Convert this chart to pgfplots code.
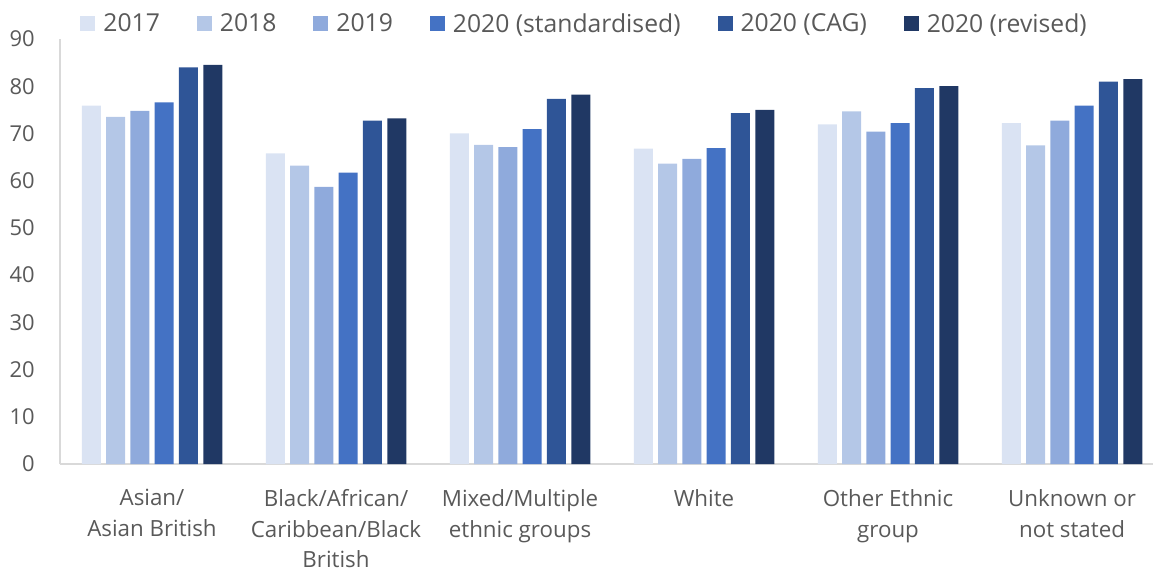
\documentclass[border=0pt]{standalone}
\usepackage{pgfplots}
\pgfplotsset{compat=1.18}
\usepackage{fontspec}
\setmainfont{Open Sans}
\definecolor{c1}{HTML}{DAE3F3}
\definecolor{c2}{HTML}{B4C7E7}
\definecolor{c3}{HTML}{8FAADC}
\definecolor{c4}{HTML}{4472C4}
\definecolor{c5}{HTML}{2F5597}
\definecolor{c6}{HTML}{203864}
\definecolor{txt}{HTML}{595959}
\definecolor{axc}{HTML}{D9D9D9}
\pgfplotsset{sq/.style={draw=none, fill=#1,
  legend image code/.code={\fill[#1] (0bp,-3.4bp) rectangle (7.5bp,4.1bp);}}}
\begin{document}
\begin{tikzpicture}
\begin{axis}[
  scale only axis, width=546.5bp, height=212.5bp,
  xmin=-0.5, xmax=5.44, ymin=0, ymax=90,
  ytick={0,10,...,90},
  xtick={0,...,5},
  xticklabels={Asian/\\Asian British, Black/African/\\Caribbean/Black\\British, Mixed/Multiple\\ethnic groups, White, Other Ethnic\\group, Unknown or\\not stated},
  xticklabel style={align=center, font=\fontsize{11.2}{15.3}\selectfont, text=txt, anchor=north, inner sep=0pt, yshift=-12.6bp},
  yticklabel style={font=\fontsize{11}{13}\selectfont, text=txt, anchor=east, inner sep=0pt, xshift=-12.5bp},
  /pgf/number format/assume math mode=true,
  axis x line*=bottom, axis y line*=left,
  axis line style={axc, line width=1bp},
  major tick length=0pt,
  ybar=2.65bp, bar width=9.5bp,
  legend columns=6,
  legend cell align=left,
  legend style={at={(0.0183,1.035)}, anchor=west, draw=none, fill=none, inner sep=0pt,
    font=\fontsize{12.4}{14}\selectfont, text=txt,
    nodes={inner xsep=0pt},
    /tikz/every odd column/.append style={column sep=4bp},
    /tikz/every even column/.append style={column sep=18.5bp}},
]
\addplot[sq=c1] coordinates {(0,75.9) (1,65.8) (2,70.0) (3,66.8) (4,71.9) (5,72.2)};
\addplot[sq=c2] coordinates {(0,73.5) (1,63.2) (2,67.6) (3,63.6) (4,74.7) (5,67.5)};
\addplot[sq=c3] coordinates {(0,74.8) (1,58.7) (2,67.1) (3,64.6) (4,70.4) (5,72.7)};
\addplot[sq=c4] coordinates {(0,76.6) (1,61.7) (2,70.9) (3,66.9) (4,72.2) (5,75.9)};
\addplot[sq=c5] coordinates {(0,84.0) (1,72.7) (2,77.3) (3,74.3) (4,79.6) (5,81.0)};
\addplot[sq=c6] coordinates {(0,84.5) (1,73.2) (2,78.2) (3,75.0) (4,80.0) (5,81.5)};
\legend{2017, 2018, 2019, 2020 (standardised), 2020 (CAG), 2020 (revised)}
\coordinate (o) at (rel axis cs:0,0);
\end{axis}
\pgfresetboundingbox
\path[use as bounding box] (o) ++(-30bp,-54bp) rectangle ++(576.5bp,286bp);
\end{tikzpicture}
\end{document}
